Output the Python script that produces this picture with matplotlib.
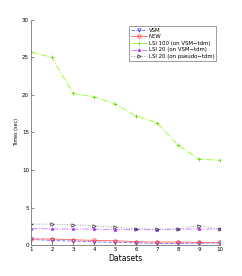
import matplotlib
matplotlib.use("Agg")
import matplotlib.pyplot as plt
import numpy as np

datasets = np.arange(1, 11)
vsm = [0.75, 0.62, 0.53, 0.44, 0.35, 0.31, 0.22, 0.22, 0.27, 0.27]
new = [0.84, 0.80, 0.71, 0.62, 0.58, 0.44, 0.40, 0.40, 0.35, 0.35]
lsi100 = [25.7, 25.0, 20.2, 19.75, 18.8, 17.2, 16.3, 13.3, 11.45, 11.3]
lsi20_vsm = [2.2, 2.17, 2.13, 2.13, 2.04, 2.08, 2.04, 2.13, 2.13, 2.13]
lsi20_pseudo = [2.79, 2.79, 2.7, 2.57, 2.39, 2.17, 2.13, 2.13, 2.6, 2.13]

fig = plt.figure(figsize=(2.42, 2.76), dpi=100)
ax = fig.add_axes([0.128, 0.112, 0.781, 0.816])

ax.plot(datasets, vsm, '--', color='#7f7fff', marker='v', ms=2.5, lw=0.7,
        mfc='none', mec='#3030ff', mew=0.5, label='VSM')
ax.plot(datasets, new, '-', color='#ff7070', marker='o', ms=2.5, lw=0.7,
        mfc='none', mec='#ff3030', mew=0.5, label='NEW')
ax.plot(datasets, lsi100, '-.', color='#99ff33', marker='+', ms=3, lw=0.7,
        mec='#66cc00', mew=0.5, label='LSI 100 (on VSM\u2212tdm)')
ax.plot(datasets, lsi20_vsm, '-.', color='#cc88ff', marker='*', ms=2.5, lw=0.7,
        mec='#9933ff', mfc='#9933ff', mew=0.4, label='LSI 20 (on VSM\u2212tdm)')
ax.plot(datasets, lsi20_pseudo, ':', color='#999999', marker='>', ms=2.5, lw=0.7,
        mfc='none', mec='#333333', mew=0.5, label='LSI 20 (on pseudo\u2212tdm)')

ax.set_xlim(1, 10)
ax.set_ylim(0, 30)
ax.set_xticks(datasets)
ax.set_yticks([0, 5, 10, 15, 20, 25, 30])
ax.tick_params(direction='in', labelsize=4, length=2, width=0.5, color='#555555', pad=1.5)
for s in ['top', 'right']:
    ax.spines[s].set_visible(False)
for s in ['left', 'bottom']:
    ax.spines[s].set_color('#777777')
    ax.spines[s].set_linewidth(0.6)

ax.set_xlabel('Datasets', fontsize=5.5, labelpad=1)
ax.set_ylabel('Times (sec)', fontsize=3.5, labelpad=2)

leg = ax.legend(loc='upper right', bbox_to_anchor=(0.995, 0.985), fontsize=3.9,
                frameon=True, fancybox=False, edgecolor='#555555',
                handlelength=3, borderpad=0.3, labelspacing=0.3, handletextpad=0.4)
leg.get_frame().set_linewidth(0.5)

fig.savefig('out.png', dpi=100)
